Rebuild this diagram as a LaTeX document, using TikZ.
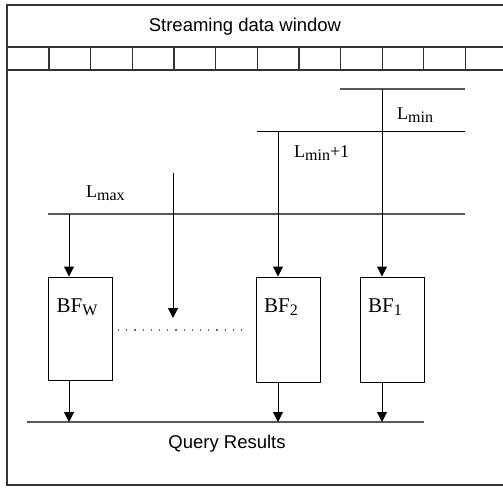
\documentclass[tikz,border=0pt]{standalone}
\usepackage{fontspec}
\setmainfont{Liberation Serif}
\setsansfont{Liberation Sans}
\usetikzlibrary{arrows.meta,positioning,calc}

\newcommand{\lowsub}[1]{\raisebox{-3.5pt}{\fontsize{16}{16}\selectfont #1}}

\tikzset{
	frameline/.style={draw=black!80,line width=1.2pt},
	levelline/.style={draw=black!65,line width=2pt},
	thinline/.style={draw=black,line width=1pt},
	flow/.style={-{Triangle[length=10pt,width=10pt]},line width=1pt},
	bfbox/.style={draw,line width=1pt,minimum width=64pt,inner sep=0pt},
	bftext/.style={font=\fontsize{21}{25}\selectfont,inner sep=0pt},
	lvltext/.style={font=\fontsize{18}{22}\selectfont,inner sep=0pt,anchor=west},
	sanstext/.style={font=\sffamily\fontsize{18.5}{22}\selectfont,inner sep=0pt}
}

\begin{document}
\begin{tikzpicture}[x=1pt,y=-1pt]
	\useasboundingbox (0,0) rectangle (503,487);
	
	% outer frame and window
	\draw[frameline] (512,5) -- (7,5) -- (7,485) -- (512,485);
	\draw[frameline] (7,47) -- (512,47);
	\draw[frameline] (7,70) -- (512,70);
	\foreach \k in {0,...,11}
		\draw[frameline] ({49+41.65*\k},47) -- ({49+41.65*\k},70);
	\node[sanstext] (title) at (245,27) {Streaming data window};
	
	% levels
	\draw[levelline] (340,89) -- (465,89);
	\draw[thinline] (257,131) -- (465,131);
	\draw[levelline] (48,214) -- (465,214);
	\coordinate (lminpt) at (382,89);
	\coordinate (lminonept) at (278,131);
	\coordinate (lmaxpt) at (69,214);
	\coordinate (midpt) at (173,173);
	\node[lvltext] (lminlbl) at (397,115) {L\lowsub{min}};
	\node[lvltext] (lminonelbl) at (294,153) {L\lowsub{min}+1};
	\node[lvltext] (lmaxlbl) at (86,193) {L\lowsub{max}};
	
	% Bloom filters
	\node[bfbox,minimum height=103pt] (bfw) at (80,328.5) {};
	\node[bfbox,minimum height=105pt] (bftwo) at (288.5,329.5) {};
	\node[bfbox,minimum height=105pt] (bfone) at (392.5,329.5) {};
	\node[bftext] (bfwlbl) at (77,307) {BF\lowsub{W}};
	\node[bftext] (bftwolbl) at (281,307) {BF\lowsub{2}};
	\node[bftext] (bfonelbl) at (385,307) {BF\lowsub{1}};
	
	\draw[flow] (lminpt) -- (lminpt |- bfone.north);
	\draw[flow] (lminonept) -- (lminonept |- bftwo.north);
	\draw[flow] (lmaxpt) -- (lmaxpt |- bfw.north);
	\coordinate (midend) at (173,318);
	\draw[flow] (midpt) -- (midend);
	\draw[line width=1.2pt,black!60,dash pattern=on 1.2pt off 7pt] (118,330) -- (243,330);
	
	% results
	\draw[levelline] (27,422) -- (424,422);
	\coordinate (res) at (0,422);
	\draw[flow] (lmaxpt |- bfw.south) -- (lmaxpt |- res);
	\draw[flow] (lminonept |- bftwo.south) -- (lminonept |- res);
	\draw[flow] (lminpt |- bfone.south) -- (lminpt |- res);
	\node[sanstext] (query) at (227,444) {Query Results};
\end{tikzpicture}
\end{document}
